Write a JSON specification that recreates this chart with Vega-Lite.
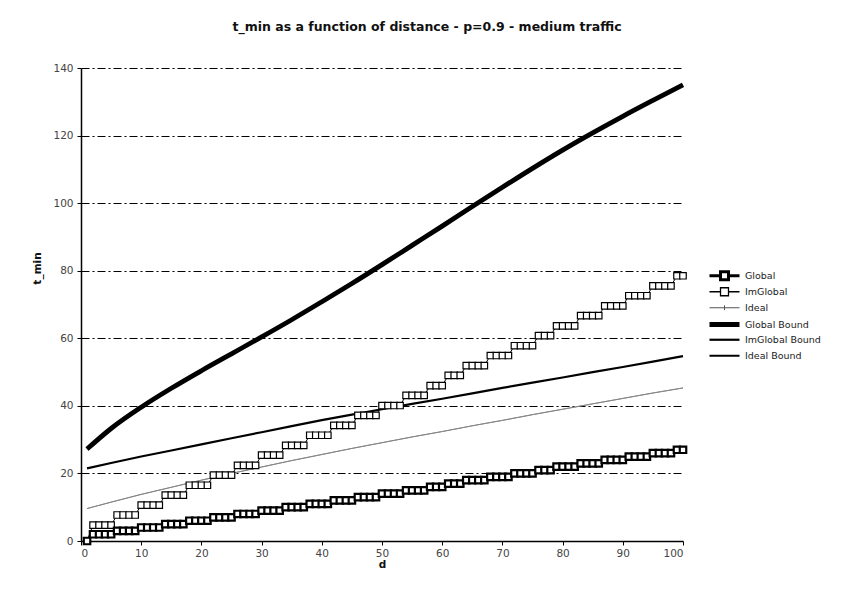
{
  "$schema": "https://vega.github.io/schema/vega-lite/v6.json",
  "width": 602,
  "height": 473,
  "autosize": {"type": "none"},
  "padding": {"left": 81, "top": 68, "right": 158, "bottom": 53},
  "background": "white",
  "title": {"text": "t_min as a function of distance - p=0.9 - medium traffic", "font": "DejaVu Sans", "fontSize": 12.5, "fontWeight": "bold", "color": "#111", "anchor": "middle", "frame": "group", "dx": 45, "offset": 30},
  "config": {
    "view": {"stroke": null},
    "axis": {"domainColor": "#000", "domainWidth": 1.5, "tickColor": "#000", "tickSize": 4, "tickWidth": 1, "labelFont": "DejaVu Sans", "labelFontSize": 10.5, "labelColor": "#444", "titleFont": "DejaVu Sans", "titleFontSize": 10.5, "titleFontWeight": "bold", "titleColor": "#111"}
  },
  "data": {"values": [
    {"d":1,"Global":0,"ImGlobal":0,"Global Bound":27.2,"ImGlobal Bound":21.5,"Ideal Bound":9.6,"Ideal":9.6},
    {"d":2,"Global":2,"ImGlobal":4.7},
    {"d":3,"Global":2,"ImGlobal":4.7},
    {"d":4,"Global":2,"ImGlobal":4.7},
    {"d":5,"Global":2,"ImGlobal":4.7,"Global Bound":33.3,"ImGlobal Bound":23.1,"Ideal Bound":11.5,"Ideal":11.5},
    {"d":6,"Global":3,"ImGlobal":7.7},
    {"d":7,"Global":3,"ImGlobal":7.7},
    {"d":8,"Global":3,"ImGlobal":7.7},
    {"d":9,"Global":3,"ImGlobal":7.7},
    {"d":10,"Global":4,"ImGlobal":10.6,"Global Bound":39.6,"ImGlobal Bound":25.0,"Ideal Bound":13.8,"Ideal":13.8},
    {"d":11,"Global":4,"ImGlobal":10.6},
    {"d":12,"Global":4,"ImGlobal":10.6},
    {"d":13,"Global":4,"ImGlobal":10.6},
    {"d":14,"Global":5,"ImGlobal":13.6},
    {"d":15,"Global":5,"ImGlobal":13.6,"Global Bound":45.2,"ImGlobal Bound":26.8,"Ideal Bound":15.9,"Ideal":15.9},
    {"d":16,"Global":5,"ImGlobal":13.6},
    {"d":17,"Global":5,"ImGlobal":13.6},
    {"d":18,"Global":6,"ImGlobal":16.5},
    {"d":19,"Global":6,"ImGlobal":16.5},
    {"d":20,"Global":6,"ImGlobal":16.5,"Global Bound":50.4,"ImGlobal Bound":28.6,"Ideal Bound":18.0,"Ideal":18.0},
    {"d":21,"Global":6,"ImGlobal":16.5},
    {"d":22,"Global":7,"ImGlobal":19.5},
    {"d":23,"Global":7,"ImGlobal":19.5},
    {"d":24,"Global":7,"ImGlobal":19.5},
    {"d":25,"Global":7,"ImGlobal":19.5,"Global Bound":55.4,"ImGlobal Bound":30.4,"Ideal Bound":20.0,"Ideal":20.0},
    {"d":26,"Global":8,"ImGlobal":22.4},
    {"d":27,"Global":8,"ImGlobal":22.4},
    {"d":28,"Global":8,"ImGlobal":22.4},
    {"d":29,"Global":8,"ImGlobal":22.4},
    {"d":30,"Global":9,"ImGlobal":25.4,"Global Bound":60.4,"ImGlobal Bound":32.2,"Ideal Bound":21.9,"Ideal":21.9},
    {"d":31,"Global":9,"ImGlobal":25.4},
    {"d":32,"Global":9,"ImGlobal":25.4},
    {"d":33,"Global":9,"ImGlobal":25.4},
    {"d":34,"Global":10,"ImGlobal":28.3},
    {"d":35,"Global":10,"ImGlobal":28.3,"Global Bound":65.5,"ImGlobal Bound":34.0,"Ideal Bound":23.8,"Ideal":23.8},
    {"d":36,"Global":10,"ImGlobal":28.3},
    {"d":37,"Global":10,"ImGlobal":28.3},
    {"d":38,"Global":11,"ImGlobal":31.3},
    {"d":39,"Global":11,"ImGlobal":31.3},
    {"d":40,"Global":11,"ImGlobal":31.3,"Global Bound":70.8,"ImGlobal Bound":35.8,"Ideal Bound":25.6,"Ideal":25.6},
    {"d":41,"Global":11,"ImGlobal":31.3},
    {"d":42,"Global":12,"ImGlobal":34.2},
    {"d":43,"Global":12,"ImGlobal":34.2},
    {"d":44,"Global":12,"ImGlobal":34.2},
    {"d":45,"Global":12,"ImGlobal":34.2,"Global Bound":76.2,"ImGlobal Bound":37.4,"Ideal Bound":27.4,"Ideal":27.4},
    {"d":46,"Global":13,"ImGlobal":37.2},
    {"d":47,"Global":13,"ImGlobal":37.2},
    {"d":48,"Global":13,"ImGlobal":37.2},
    {"d":49,"Global":13,"ImGlobal":37.2},
    {"d":50,"Global":14,"ImGlobal":40.1,"Global Bound":81.8,"ImGlobal Bound":39.0,"Ideal Bound":29.1,"Ideal":29.1},
    {"d":51,"Global":14,"ImGlobal":40.1},
    {"d":52,"Global":14,"ImGlobal":40.1},
    {"d":53,"Global":14,"ImGlobal":40.1},
    {"d":54,"Global":15,"ImGlobal":43.1},
    {"d":55,"Global":15,"ImGlobal":43.1,"Global Bound":87.5,"ImGlobal Bound":40.6,"Ideal Bound":30.8,"Ideal":30.8},
    {"d":56,"Global":15,"ImGlobal":43.1},
    {"d":57,"Global":15,"ImGlobal":43.1},
    {"d":58,"Global":16,"ImGlobal":46.0},
    {"d":59,"Global":16,"ImGlobal":46.0},
    {"d":60,"Global":16,"ImGlobal":46.0,"Global Bound":93.2,"ImGlobal Bound":42.1,"Ideal Bound":32.4,"Ideal":32.4},
    {"d":61,"Global":17,"ImGlobal":49.0},
    {"d":62,"Global":17,"ImGlobal":49.0},
    {"d":63,"Global":17,"ImGlobal":49.0},
    {"d":64,"Global":18,"ImGlobal":51.9},
    {"d":65,"Global":18,"ImGlobal":51.9,"Global Bound":99.0,"ImGlobal Bound":43.7,"Ideal Bound":34.1,"Ideal":34.1},
    {"d":66,"Global":18,"ImGlobal":51.9},
    {"d":67,"Global":18,"ImGlobal":51.9},
    {"d":68,"Global":19,"ImGlobal":54.9},
    {"d":69,"Global":19,"ImGlobal":54.9},
    {"d":70,"Global":19,"ImGlobal":54.9,"Global Bound":104.7,"ImGlobal Bound":45.3,"Ideal Bound":35.7,"Ideal":35.7},
    {"d":71,"Global":19,"ImGlobal":54.9},
    {"d":72,"Global":20,"ImGlobal":57.8},
    {"d":73,"Global":20,"ImGlobal":57.8},
    {"d":74,"Global":20,"ImGlobal":57.8},
    {"d":75,"Global":20,"ImGlobal":57.8,"Global Bound":110.3,"ImGlobal Bound":46.9,"Ideal Bound":37.4,"Ideal":37.4},
    {"d":76,"Global":21,"ImGlobal":60.8},
    {"d":77,"Global":21,"ImGlobal":60.8},
    {"d":78,"Global":21,"ImGlobal":60.8},
    {"d":79,"Global":22,"ImGlobal":63.7},
    {"d":80,"Global":22,"ImGlobal":63.7,"Global Bound":115.7,"ImGlobal Bound":48.4,"Ideal Bound":39.0,"Ideal":39.0},
    {"d":81,"Global":22,"ImGlobal":63.7},
    {"d":82,"Global":22,"ImGlobal":63.7},
    {"d":83,"Global":23,"ImGlobal":66.7},
    {"d":84,"Global":23,"ImGlobal":66.7},
    {"d":85,"Global":23,"ImGlobal":66.7,"Global Bound":120.8,"ImGlobal Bound":50.0,"Ideal Bound":40.6,"Ideal":40.6},
    {"d":86,"Global":23,"ImGlobal":66.7},
    {"d":87,"Global":24,"ImGlobal":69.6},
    {"d":88,"Global":24,"ImGlobal":69.6},
    {"d":89,"Global":24,"ImGlobal":69.6},
    {"d":90,"Global":24,"ImGlobal":69.6,"Global Bound":125.7,"ImGlobal Bound":51.5,"Ideal Bound":42.2,"Ideal":42.2},
    {"d":91,"Global":25,"ImGlobal":72.6},
    {"d":92,"Global":25,"ImGlobal":72.6},
    {"d":93,"Global":25,"ImGlobal":72.6},
    {"d":94,"Global":25,"ImGlobal":72.6},
    {"d":95,"Global":26,"ImGlobal":75.5,"Global Bound":130.4,"ImGlobal Bound":53.1,"Ideal Bound":43.8,"Ideal":43.8},
    {"d":96,"Global":26,"ImGlobal":75.5},
    {"d":97,"Global":26,"ImGlobal":75.5},
    {"d":98,"Global":26,"ImGlobal":75.5},
    {"d":99,"Global":27,"ImGlobal":78.5},
    {"d":100,"Global":27,"ImGlobal":78.5,"Global Bound":135.0,"ImGlobal Bound":54.7,"Ideal Bound":45.3,"Ideal":45.3}
  ]},
  "encoding": {
    "x": {"field": "d", "type": "quantitative", "scale": {"domain": [0, 100], "nice": false}, "axis": {"title": "d", "values": [0,10,20,30,40,50,60,70,80,90,100], "grid": false, "labelPadding": 3, "titlePadding": 1}},
    "y": {"field": "t", "type": "quantitative", "scale": {"domain": [0, 140], "nice": false}, "axis": {"title": "t_min", "values": [0,20,40,60,80,100,120,140], "grid": true, "gridColor": "#000", "gridWidth": 1.2, "gridDash": [8,3,2,3], "labelPadding": 4, "titlePadding": 10, "titleY": 200}}
  },
  "layer": [
    {"transform": [{"fold": ["Ideal Bound"], "as": ["series", "t"]}, {"filter": "isValid(datum.t)"}], "mark": {"type": "line", "color": "#777", "strokeWidth": 1}},
    {"transform": [{"fold": ["Ideal"], "as": ["series", "t"]}, {"filter": "isValid(datum.t)"}], "mark": {"type": "line", "color": "#888", "strokeWidth": 0.8}},
    {"transform": [{"fold": ["ImGlobal Bound"], "as": ["series", "t"]}, {"filter": "isValid(datum.t)"}], "mark": {"type": "line", "color": "#000", "strokeWidth": 2.2}},
    {"transform": [{"fold": ["Global Bound"], "as": ["series", "t"]}, {"filter": "isValid(datum.t)"}], "mark": {"type": "line", "color": "#000", "strokeWidth": 4.8, "interpolate": "monotone"}},
    {"transform": [{"fold": ["ImGlobal"], "as": ["series", "t"]}, {"filter": "isValid(datum.t)"}], "mark": {"type": "line", "color": "#000", "strokeWidth": 1}},
    {"transform": [{"fold": ["ImGlobal"], "as": ["series", "t"]}, {"filter": "isValid(datum.t)"}], "mark": {"type": "point", "shape": "square", "size": 42, "filled": true, "fill": "#fff", "stroke": "#000", "strokeWidth": 1.2, "opacity": 1}},
    {"transform": [{"fold": ["Global"], "as": ["series", "t"]}, {"filter": "isValid(datum.t)"}], "mark": {"type": "line", "color": "#000", "strokeWidth": 2.5}},
    {"transform": [{"fold": ["Global"], "as": ["series", "t"]}, {"filter": "isValid(datum.t)"}], "mark": {"type": "point", "shape": "square", "size": 42, "filled": true, "fill": "#fff", "stroke": "#000", "strokeWidth": 2.2, "opacity": 1}},
    {"transform": [{"fold": ["Global", "ImGlobal", "Ideal", "Global Bound", "ImGlobal Bound", "Ideal Bound"], "as": ["series", "t"]}, {"filter": "isValid(datum.t)"}],
     "mark": {"type": "point", "filled": true, "fill": "#fff", "opacity": 0},
     "encoding": {
       "shape": {"field": "series", "type": "nominal", "title": null,
         "scale": {"domain": ["Global", "ImGlobal", "Ideal", "Global Bound", "ImGlobal Bound", "Ideal Bound"],
                   "range": ["M-5,0H-1.33M1.33,0H5M-1.33,-1.33H1.33V1.33H-1.33Z", "M-5,0H-1.33M1.33,0H5M-1.33,-1.33H1.33V1.33H-1.33Z", "M-5,0H5M0,-0.8V0.8", "M-5,0H5", "M-5,0H5", "M-5,0H5"]},
         "legend": {"orient": "none", "legendX": 638, "legendY": 203, "padding": 0, "gridAlign": "all", "symbolSize": 36, "symbolOpacity": 1, "symbolFillColor": "#fff", "labelFont": "DejaVu Sans", "labelFontSize": 9.5, "labelColor": "#222", "labelOffset": 15, "rowPadding": -9}},
       "stroke": {"field": "series", "type": "nominal", "title": null,
         "scale": {"domain": ["Global", "ImGlobal", "Ideal", "Global Bound", "ImGlobal Bound", "Ideal Bound"], "range": ["#000", "#000", "#555", "#000", "#000", "#000"]}},
       "strokeWidth": {"field": "series", "type": "nominal", "title": null,
         "scale": {"type": "ordinal", "domain": ["Global", "ImGlobal", "Ideal", "Global Bound", "ImGlobal Bound", "Ideal Bound"], "range": [3, 1.3, 1, 5, 2.2, 2]}}
     }
    }
  ]
}
